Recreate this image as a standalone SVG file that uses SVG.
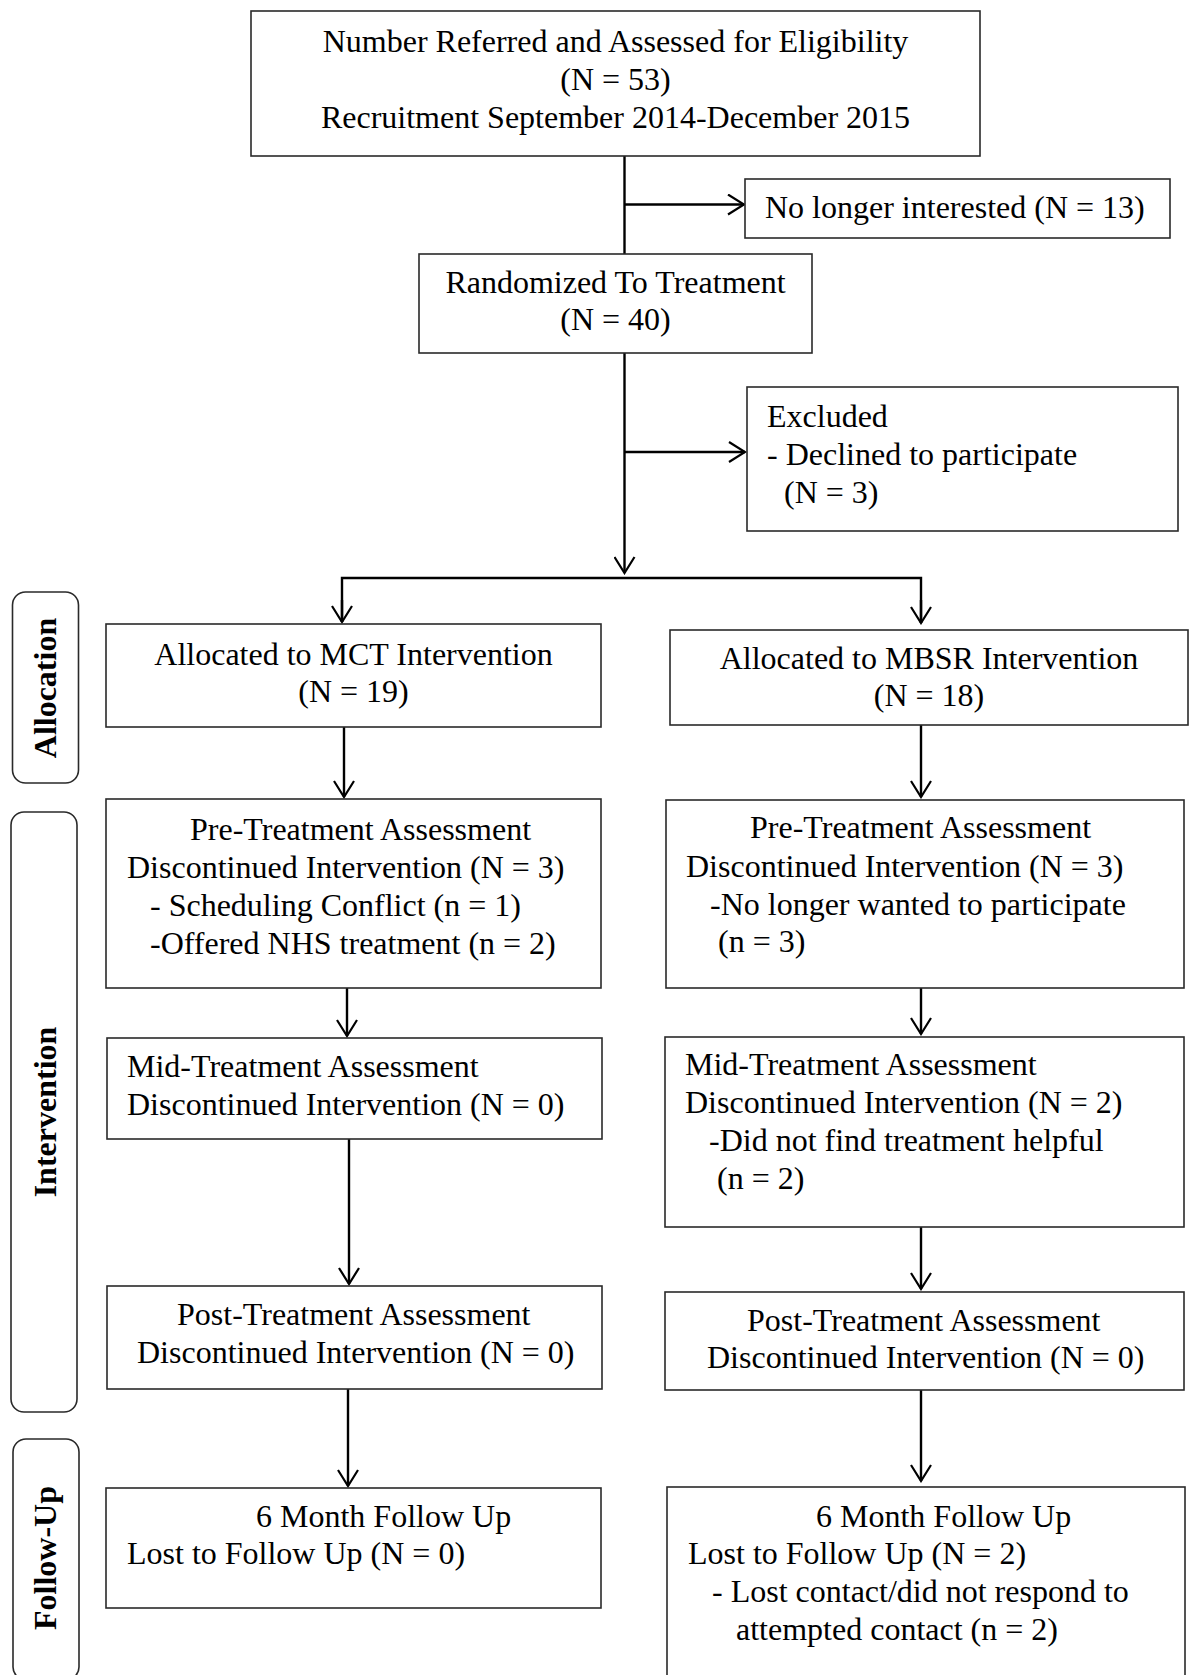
<svg xmlns="http://www.w3.org/2000/svg" width="1192" height="1675" viewBox="0 0 1192 1675">
  <style>
    .box { fill: #fff; stroke: #2a2a2a; stroke-width: 1.6; }
    .side { fill: #fff; stroke: #2a2a2a; stroke-width: 1.6; }
    .t { font-family: "Liberation Serif", "Times New Roman", serif; font-size: 32px; fill: #000; }
    .c { text-anchor: middle; }
    .lbl { font-family: "Liberation Serif", "Times New Roman", serif; font-size: 32px; font-weight: bold; fill: #000; text-anchor: middle; }
    .ln { fill: none; stroke: #000; stroke-width: 2.4; }
  </style>
  <defs>
    <marker id="arr" viewBox="0 0 19 22" refX="17" refY="11" markerWidth="19" markerHeight="22" markerUnits="userSpaceOnUse" orient="auto">
      <path d="M1,1 L17,11 L1,21" fill="none" stroke="#000" stroke-width="2.2"/>
    </marker>
  </defs>
  <rect width="1192" height="1675" fill="#fff"/>

  <!-- stage labels -->
  <g id="stage-allocation">
    <rect class="side" x="12.5" y="592" width="66" height="191" rx="13"/>
    <text class="lbl" transform="translate(56 688) rotate(-90)">Allocation</text>
  </g>
  <g id="stage-intervention">
    <rect class="side" x="11" y="812" width="66" height="600" rx="13"/>
    <text class="lbl" transform="translate(56 1112) rotate(-90)">Intervention</text>
  </g>
  <g id="stage-followup">
    <rect class="side" x="13" y="1439" width="66" height="241" rx="13"/>
    <text class="lbl" transform="translate(56 1558) rotate(-90)">Follow-Up</text>
  </g>

  <!-- connectors -->
  <g id="connectors">
    <line class="ln" x1="624.5" y1="156" x2="624.5" y2="254"/>
    <line class="ln" x1="624.5" y1="204.5" x2="744" y2="204.5" marker-end="url(#arr)"/>
    <line class="ln" x1="624.5" y1="353" x2="624.5" y2="573" marker-end="url(#arr)"/>
    <line class="ln" x1="624.5" y1="452" x2="745" y2="452" marker-end="url(#arr)"/>
    <polyline class="ln" points="342,622 342,578 921,578 921,623" />
    <line class="ln" x1="342" y1="600" x2="342" y2="622" marker-end="url(#arr)"/>
    <line class="ln" x1="921" y1="600" x2="921" y2="623" marker-end="url(#arr)"/>
    <line class="ln" x1="344" y1="727" x2="344" y2="797" marker-end="url(#arr)"/>
    <line class="ln" x1="347" y1="988" x2="347" y2="1036" marker-end="url(#arr)"/>
    <line class="ln" x1="349" y1="1139" x2="349" y2="1284" marker-end="url(#arr)"/>
    <line class="ln" x1="348" y1="1389" x2="348" y2="1486" marker-end="url(#arr)"/>
    <line class="ln" x1="921" y1="725" x2="921" y2="797" marker-end="url(#arr)"/>
    <line class="ln" x1="921" y1="988" x2="921" y2="1034" marker-end="url(#arr)"/>
    <line class="ln" x1="921" y1="1227" x2="921" y2="1289" marker-end="url(#arr)"/>
    <line class="ln" x1="921" y1="1390" x2="921" y2="1481" marker-end="url(#arr)"/>
  </g>

  <!-- enrolment -->
  <g id="assessed">
    <rect class="box" x="251" y="11" width="729" height="145"/>
    <text class="t c" x="615.5" y="52">Number Referred and Assessed for Eligibility</text>
    <text class="t c" x="615.5" y="90">(N = 53)</text>
    <text class="t c" x="615.5" y="128">Recruitment September 2014-December 2015</text>
  </g>
  <g id="not-interested">
    <rect class="box" x="745" y="179" width="425" height="59"/>
    <text class="t" x="765" y="218">No longer interested (N = 13)</text>
  </g>
  <g id="randomized">
    <rect class="box" x="419" y="254" width="393" height="99"/>
    <text class="t c" x="615.5" y="293">Randomized To Treatment</text>
    <text class="t c" x="615.5" y="330">(N = 40)</text>
  </g>
  <g id="excluded">
    <rect class="box" x="747" y="387" width="431" height="144"/>
    <text class="t" x="767" y="427">Excluded</text>
    <text class="t" x="767" y="465">- Declined to participate</text>
    <text class="t" x="784" y="503">(N = 3)</text>
  </g>

  <!-- MCT arm -->
  <g id="mct-allocated">
    <rect class="box" x="106" y="624" width="495" height="103"/>
    <text class="t c" x="353.5" y="665">Allocated to MCT Intervention</text>
    <text class="t c" x="353.5" y="702">(N = 19)</text>
  </g>
  <g id="mct-pre">
    <rect class="box" x="106" y="799" width="495" height="189"/>
    <text class="t" x="190" y="840">Pre-Treatment Assessment</text>
    <text class="t" x="127" y="878">Discontinued Intervention (N = 3)</text>
    <text class="t" x="150" y="916">- Scheduling Conflict (n = 1)</text>
    <text class="t" x="150" y="954">-Offered NHS treatment (n = 2)</text>
  </g>
  <g id="mct-mid">
    <rect class="box" x="107" y="1038" width="495" height="101"/>
    <text class="t" x="127" y="1077">Mid-Treatment Assessment</text>
    <text class="t" x="127" y="1115">Discontinued Intervention (N = 0)</text>
  </g>
  <g id="mct-post">
    <rect class="box" x="107" y="1286" width="495" height="103"/>
    <text class="t" x="177" y="1325">Post-Treatment Assessment</text>
    <text class="t" x="137" y="1363">Discontinued Intervention (N = 0)</text>
  </g>
  <g id="mct-followup">
    <rect class="box" x="106" y="1488" width="495" height="120"/>
    <text class="t" x="256" y="1527">6 Month Follow Up</text>
    <text class="t" x="127" y="1564">Lost to Follow Up (N = 0)</text>
  </g>

  <!-- MBSR arm -->
  <g id="mbsr-allocated">
    <rect class="box" x="670" y="630" width="518" height="95"/>
    <text class="t c" x="929" y="669">Allocated to MBSR Intervention</text>
    <text class="t c" x="929" y="706">(N = 18)</text>
  </g>
  <g id="mbsr-pre">
    <rect class="box" x="666" y="800" width="518" height="188"/>
    <text class="t" x="750" y="838">Pre-Treatment Assessment</text>
    <text class="t" x="686" y="877">Discontinued Intervention (N = 3)</text>
    <text class="t" x="710" y="915">-No longer wanted to participate</text>
    <text class="t" x="718" y="952">(n = 3)</text>
  </g>
  <g id="mbsr-mid">
    <rect class="box" x="665" y="1037" width="519" height="190"/>
    <text class="t" x="685" y="1075">Mid-Treatment Assessment</text>
    <text class="t" x="685" y="1113">Discontinued Intervention (N = 2)</text>
    <text class="t" x="709" y="1151">-Did not find treatment helpful</text>
    <text class="t" x="717" y="1189">(n = 2)</text>
  </g>
  <g id="mbsr-post">
    <rect class="box" x="665" y="1292" width="519" height="98"/>
    <text class="t" x="747" y="1331">Post-Treatment Assessment</text>
    <text class="t" x="707" y="1368">Discontinued Intervention (N = 0)</text>
  </g>
  <g id="mbsr-followup">
    <rect class="box" x="667" y="1487" width="518" height="200"/>
    <text class="t" x="816" y="1527">6 Month Follow Up</text>
    <text class="t" x="688" y="1564">Lost to Follow Up (N = 2)</text>
    <text class="t" x="712" y="1602">- Lost contact/did not respond to</text>
    <text class="t" x="736" y="1640">attempted contact (n = 2)</text>
  </g>
</svg>
